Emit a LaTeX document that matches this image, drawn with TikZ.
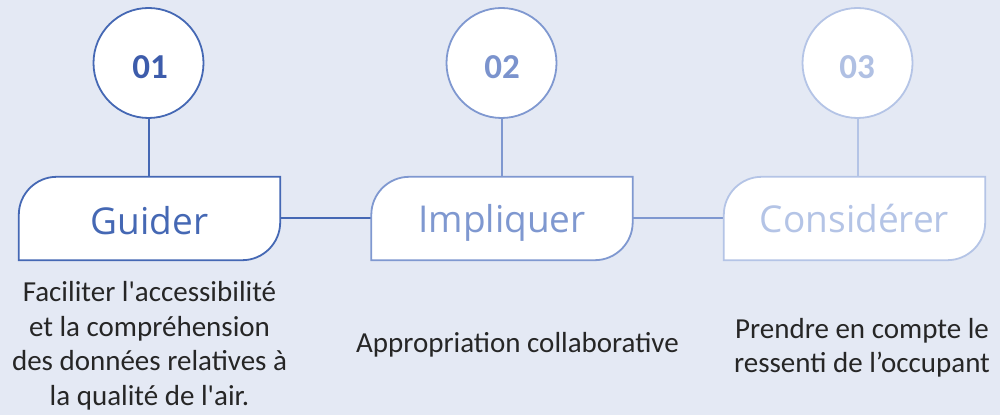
\documentclass[tikz,border=0pt]{standalone}
\usepackage{fontspec}
\setmainfont{Carlito}
\newfontfamily\descfont{Carlito}
\newfontfamily\handfont{Open Sans}
\definecolor{bg}{HTML}{E4E9F4}
\definecolor{cA}{HTML}{4568B4}
\definecolor{cB}{HTML}{7F98D0}
\definecolor{cC}{HTML}{B4C4E6}
\definecolor{nA}{HTML}{3D5CAB}
\definecolor{nB}{HTML}{7B93CD}
\definecolor{nC}{HTML}{B0C0E3}
\definecolor{desc}{HTML}{262626}
\newcommand\drawtab[2]{%
  \draw[line width=1.8pt, draw=#2, fill=white]
    (#1.south west) -- ([yshift=-38pt]#1.north west)
    arc[start angle=180,end angle=90,radius=38pt]
    -- (#1.north east) -- ([yshift=38pt]#1.south east)
    arc[start angle=0,end angle=-90,radius=38pt] -- cycle;}
\begin{document}
\begin{tikzpicture}[x=1pt,y=1pt,
  circ/.style={circle, draw=#1, fill=white, line width=1.8pt, minimum size=110pt, inner sep=0pt},
  tabbox/.style={rectangle, minimum width=261pt, minimum height=83pt, inner sep=0pt},
  num/.style={font=\fontsize{35}{40}\selectfont\bfseries, text=#1, anchor=base, inner sep=0pt},
  lbl/.style={font=\handfont\fontsize{37}{42}\selectfont, text=#1, anchor=base, inner sep=0pt},
  dsc/.style={font=\descfont\fontsize{29}{34.5}\selectfont, text=desc, align=center, inner sep=0pt},
  link/.style={line width=2pt, draw=#1}
  ]
\useasboundingbox (0,0) rectangle (1000,415);
\fill[bg] (0,0) rectangle (1000,415);
% boxes (anchors)
\node[tabbox] (b1) at (149.5,196.5) {};
\node[tabbox] (b2) at (502,196.5) {};
\node[tabbox] (b3) at (854.5,196.5) {};
% circles positions
\coordinate (p1) at (148.5,352);
\coordinate (p2) at (501.5,352);
\coordinate (p3) at (857.5,352);
% connectors
\draw[link=cA] (b1.east) -- (b2.west);
\draw[link=cB] (b2.east) -- (b3.west);
\draw[link=cA] (p1) -- (p1 |- b1.north);
\draw[link=cB] (p2) -- (p2 |- b2.north);
\draw[link=cC] (p3) -- (p3 |- b3.north);
% tab shapes
\drawtab{b1}{cA}
\drawtab{b2}{cB}
\drawtab{b3}{cC}
% circles
\node[circ=cA] (c1) at (p1) {};
\node[circ=cB] (c2) at (p2) {};
\node[circ=cC] (c3) at (p3) {};
% numbers
\node[num=nA] (n1) at (150,336) {01};
\node[num=nB] (n2) at (502,336) {02};
\node[num=nC] (n3) at (857,336) {03};
% labels
\node[lbl=cA] (t1) at ([yshift=-16pt]b1.center) {Guider};
\node[lbl=cB] (t2) at ([yshift=-14pt]b2.center) {Impliquer};
\node[lbl=cC] (t3) at ([yshift=-14pt]b3.center) {Considérer};
% descriptions
\node[dsc] (d1) at (149.5,69) {Faciliter l'accessibilité\\et la compréhension\\des données relatives à\\la qualité de l'air.};
\node[dsc, anchor=base] (d2) at (517.5,63) {Appropriation collaborative};
\node[dsc] (d3) at (862,67) {Prendre en compte le\\ressenti de l’occupant};
\end{tikzpicture}
\end{document}
